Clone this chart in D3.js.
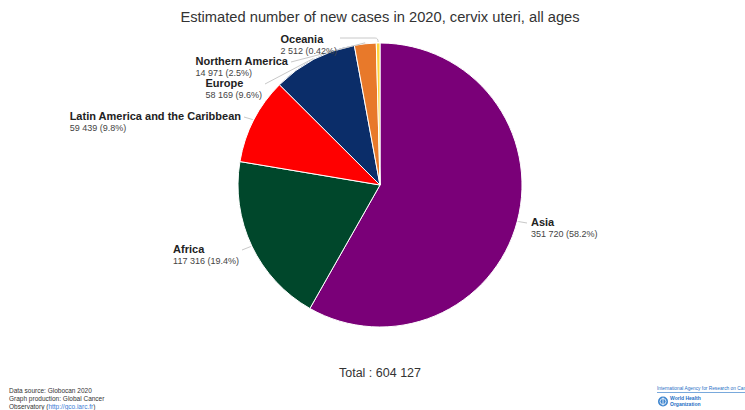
<!DOCTYPE html>
<html>
<head>
<meta charset="utf-8">
<script src="https://cdn.jsdelivr.net/npm/d3@7"></script>
<style>
  body { margin: 0; background: #fff; }
  svg { font-family: "Liberation Sans", Arial, sans-serif; }
</style>
</head>
<body>
<div id="chart"></div>
<script>
// data
const regions = ["Asia", "Africa", "Latin America and the Caribbean", "Europe", "Northern America", "Oceania"];
const cases = [351720, 117316, 59439, 58169, 14971, 2512];
const percents = ["58.2%", "19.4%", "9.8%", "9.6%", "2.5%", "0.42%"];
const colors = ["#7a0078", "#00472b", "#ff0000", "#0b2d69", "#e8792a", "#ffd33d"];

// where each label's connector ends (layout only)
const labelAnchors = [[527, 223], [242, 250], [244, 117], [265, 84], [291, 62], [340, 40]];

const W = 745, H = 410;
const cx = 380, cy = 185, R = 142;

const fmt = n => d3.format(",")(n).replace(/,/g, " ");

const svg = d3.select("#chart").append("svg")
    .attr("width", W)
    .attr("height", H);

svg.append("text")
    .attr("x", cx)
    .attr("y", 22)
    .attr("text-anchor", "middle")
    .attr("font-size", 14.7)
    .attr("fill", "#333")
    .text("Estimated number of new cases in 2020, cervix uteri, all ages");

const pie = d3.pie().sort(null).value(d => d);
const arcs = pie(cases);
const arc = d3.arc().innerRadius(0).outerRadius(R);

const g = svg.append("g").attr("transform", `translate(${cx},${cy})`);

g.selectAll("path.slice")
    .data(arcs)
    .enter()
    .append("path")
    .attr("class", "slice")
    .attr("d", arc)
    .attr("fill", (d, i) => colors[i])
    .attr("stroke", "#fff")
    .attr("stroke-width", 1);

// labels + connectors
arcs.forEach((a, i) => {
    const mid = (a.startAngle + a.endAngle) / 2;
    const px = cx + (R + 1) * Math.sin(mid);
    const py = cy - (R + 1) * Math.cos(mid);
    const [ax, ay] = labelAnchors[i];
    const right = ax > cx;

    const lg = svg.append("g");
    const name = lg.append("text")
        .attr("font-size", 11)
        .attr("font-weight", "bold")
        .attr("fill", "#222")
        .text(regions[i]);
    const val = lg.append("text")
        .attr("font-size", 9)
        .attr("fill", "#444")
        .text(`${fmt(cases[i])} (${percents[i]})`);
    const wMax = Math.max(name.node().getComputedTextLength(), val.node().getComputedTextLength());
    const x0 = right ? ax + 4 : ax - 3 - wMax;
    name.attr("x", x0).attr("y", ay + 3);
    val.attr("x", x0).attr("y", ay + 14);

    let path;
    if (i === arcs.length - 1) {
        path = `M${ax},${ay - 2} L${px - 3},${ay - 2} Q${px},${ay - 2} ${px},${py}`;
    } else {
        path = `M${ax},${ay} L${px},${py}`;
    }
    svg.append("path")
        .attr("d", path)
        .attr("fill", "none")
        .attr("stroke", "#c8c8c8")
        .attr("stroke-width", 1);
});

svg.append("text")
    .attr("x", cx)
    .attr("y", 377)
    .attr("text-anchor", "middle")
    .attr("font-size", 12.5)
    .attr("fill", "#333")
    .text("Total : " + fmt(d3.sum(cases)));

// footer, left
const foot = svg.append("text")
    .attr("font-size", 6.5)
    .attr("fill", "#333");
foot.append("tspan").attr("x", 9).attr("y", 392.5).text("Data source: Globocan 2020");
foot.append("tspan").attr("x", 9).attr("y", 400.5).text("Graph production: Global Cancer");
foot.append("tspan").attr("x", 9).attr("y", 408.5).text("Observatory (");
foot.append("tspan").attr("fill", "#3a7bd5").text("http://gco.iarc.fr");
foot.append("tspan").text(")");

// footer, right (logos)
const blue = "#1f6fc5";
svg.append("text")
    .attr("x", 657)
    .attr("y", 390)
    .attr("font-size", 4.8)
    .attr("fill", blue)
    .text("International Agency for Research on Cancer");
svg.append("line")
    .attr("x1", 657).attr("x2", W)
    .attr("y1", 392.5).attr("y2", 392.5)
    .attr("stroke", blue)
    .attr("stroke-width", 0.6);
svg.append("circle")
    .attr("cx", 663).attr("cy", 401.5).attr("r", 5)
    .attr("fill", "#3f86cf");
svg.append("circle")
    .attr("cx", 663).attr("cy", 401.5).attr("r", 3)
    .attr("fill", "none")
    .attr("stroke", "#fff")
    .attr("stroke-width", 0.8);
svg.append("line")
    .attr("x1", 663).attr("x2", 663)
    .attr("y1", 397.5).attr("y2", 405.5)
    .attr("stroke", "#fff")
    .attr("stroke-width", 0.8);
const who = svg.append("text")
    .attr("font-size", 5)
    .attr("font-weight", "bold")
    .attr("fill", blue);
who.append("tspan").attr("x", 670).attr("y", 400).text("World Health");
who.append("tspan").attr("x", 670).attr("y", 405.5).text("Organization");
</script>
</body>
</html>
